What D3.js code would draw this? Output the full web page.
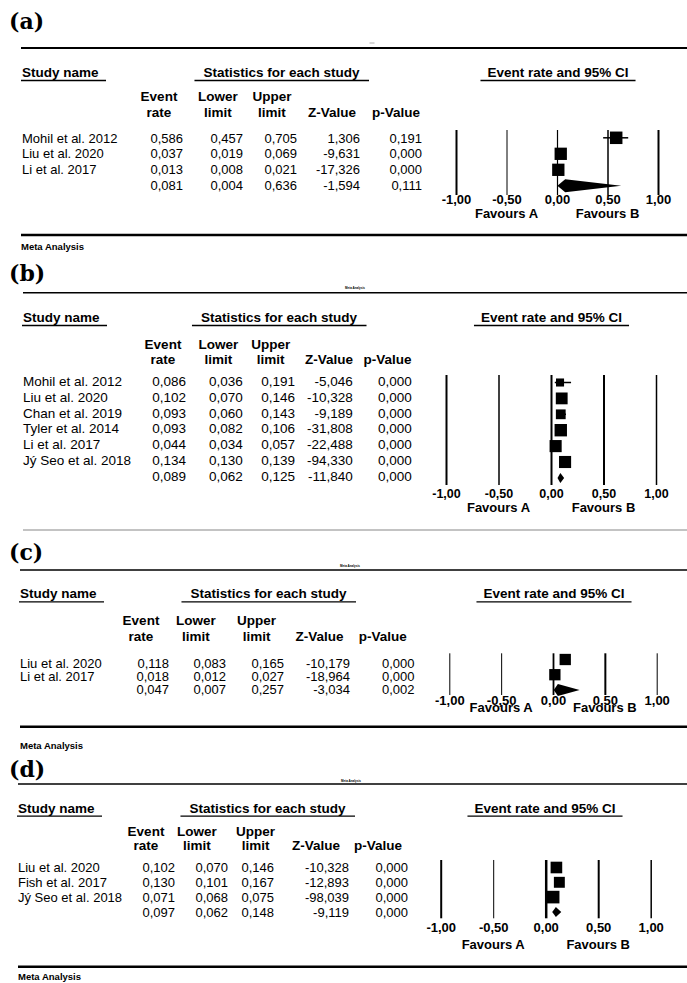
<!DOCTYPE html>
<html>
<head>
<meta charset="utf-8">
<script src="https://cdn.jsdelivr.net/npm/d3@7"></script>
<style>
body { margin: 0; background: #fff; }
text { font-family: "Liberation Sans", Arial, sans-serif; fill: #000; }
</style>
</head>
<body>
<svg id="fig" width="687" height="983"></svg>
<script>
// ---- data ----
var colHeads = [["Event", "rate"], ["Lower", "limit"], ["Upper", "limit"], ["", "Z-Value"], ["", "p-Value"]];
var axisTicks = [-1, -0.5, 0, 0.5, 1];

// (a)
var aStudies = ["Mohil et al. 2012", "Liu et al. 2020", "Li et al. 2017"];
var aRate   = [0.586, 0.037, 0.013];
var aLower  = [0.457, 0.019, 0.008];
var aUpper  = [0.705, 0.069, 0.021];
var aZ      = [1.306, -9.631, -17.326];
var aP      = [0.191, 0.000, 0.000];
var aWeight = [34, 33, 33];
var aSummary = [0.081, 0.004, 0.636, -1.594, 0.111];

// (b)
var bStudies = ["Mohil et al. 2012", "Liu et al. 2020", "Chan et al. 2019", "Tyler et al. 2014", "Li et al. 2017", "Jý Seo et al. 2018"];
var bRate   = [0.086, 0.102, 0.093, 0.093, 0.044, 0.134];
var bLower  = [0.036, 0.070, 0.060, 0.082, 0.034, 0.130];
var bUpper  = [0.191, 0.146, 0.143, 0.106, 0.057, 0.139];
var bZ      = [-5.046, -10.328, -9.189, -31.808, -22.488, -94.330];
var bP      = [0.000, 0.000, 0.000, 0.000, 0.000, 0.000];
var bWeight = [8.7, 18.7, 12.8, 20.6, 19.6, 19.6];
var bSummary = [0.089, 0.062, 0.125, -11.840, 0.000];

// (c)
var cStudies = ["Liu et al. 2020", "Li et al. 2017"];
var cRate   = [0.118, 0.018];
var cLower  = [0.083, 0.012];
var cUpper  = [0.165, 0.027];
var cZ      = [-10.179, -18.964];
var cP      = [0.000, 0.000];
var cWeight = [50, 50];
var cSummary = [0.047, 0.007, 0.257, -3.034, 0.002];

// (d)
var dStudies = ["Liu et al. 2020", "Fish et al. 2017", "Jý Seo et al. 2018"];
var dRate   = [0.102, 0.130, 0.071];
var dLower  = [0.070, 0.101, 0.068];
var dUpper  = [0.146, 0.167, 0.075];
var dZ      = [-10.328, -12.893, -98.039];
var dP      = [0.000, 0.000, 0.000];
var dWeight = [32.7, 28.9, 38.4];
var dSummary = [0.097, 0.062, 0.148, -9.119, 0.000];

// ---- layout of each panel (pixels) ----
var layA = {labelY: 29, ruleX: 21, ruleY: 48, ruleW: 2, tiny: {type: 'dash', x: 372, y: 43},
  headY: 77, nameX: 22, statsC: 281.5, ciC: 558, colY: [101, 117],
  colC: [159, 218, 272, 332, 396], colR: [183, 243, 297, 360, 422], rowY0: 142.7, rowDy: 15.7, fs: 13,
  px0: 456, px1: 658, py1: 130, py2: 195, lineW: [2, 1, 1.2, 1.5, 2], fy0: 137.8, fdy: 16,
  maxSq: 12.5, diaH: 6.5, tickY: 204, favY: 218, tickFs: 13,
  botY: 235, botW: 2.5, botColor: '#000', footY: 250};
var layB = {labelY: 281, ruleX: 23, ruleY: 292.7, ruleW: 1.5, tiny: {type: 'text', x: 355, y: 289},
  headY: 322, nameX: 23, statsC: 279, ciC: 551.5, colY: [349, 363.5],
  colC: [163, 218.5, 270.7, 329, 387.5], colR: [186, 242.7, 295, 352.7, 411.7], rowY0: 386, rowDy: 15.8, fs: 13.5,
  px0: 446, px1: 656, py1: 375, py2: 485, lineW: [2, 1.5, 2, 2, 1.5], fy0: 382.5, fdy: 15.9,
  maxSq: 12.4, diaH: 5, tickY: 498, favY: 511.7, tickFs: 12.5,
  botY: 530, botW: 1.2, botColor: '#888', footY: null};
var layC = {labelY: 560, ruleX: 20, ruleY: 570, ruleW: 1.5, tiny: {type: 'text', x: 350, y: 567},
  headY: 598.3, nameX: 20, statsC: 268.5, ciC: 554, colY: [625, 641],
  colC: [141, 196, 256.6, 319.5, 382.7], colR: [169, 226, 284, 350, 414.5], rowY0: 667.5, rowDy: 13, fs: 13,
  px0: 449.3, px1: 656.7, py1: 653.3, py2: 695, lineW: [1, 1, 1.8, 2, 1], fy0: 659.5, fdy: 15.2,
  maxSq: 11.3, diaH: 6, tickY: 704.5, favY: 711.5, tickFs: 13,
  botY: 726.7, botW: 2.5, botColor: '#000', footY: 749};
var layD = {labelY: 777, ruleX: 18, ruleY: 784, ruleW: 1.5, tiny: {type: 'text', x: 351, y: 781.5},
  headY: 812.7, nameX: 18, statsC: 267.5, ciC: 545, colY: [835.5, 850],
  colC: [146, 197, 255.6, 316, 378], colR: [175, 228, 274, 349, 408], rowY0: 871.5, rowDy: 15, fs: 13,
  px0: 440.7, px1: 650.7, py1: 860, py2: 918.3, lineW: [2, 1, 2.5, 2, 1.5], fy0: 867.5, fdy: 14.8,
  maxSq: 12.6, diaH: 5, tickY: 931.7, favY: 949.3, tickFs: 13,
  botY: 966.7, botW: 2.5, botColor: '#000', footY: 979.5};

var panels = [
  {label: '(a)', studies: aStudies, rate: aRate, lower: aLower, upper: aUpper, z: aZ, p: aP, weight: aWeight, summary: aSummary, lay: layA},
  {label: '(b)', studies: bStudies, rate: bRate, lower: bLower, upper: bUpper, z: bZ, p: bP, weight: bWeight, summary: bSummary, lay: layB},
  {label: '(c)', studies: cStudies, rate: cRate, lower: cLower, upper: cUpper, z: cZ, p: cP, weight: cWeight, summary: cSummary, lay: layC},
  {label: '(d)', studies: dStudies, rate: dRate, lower: dLower, upper: dUpper, z: dZ, p: dP, weight: dWeight, summary: dSummary, lay: layD}
];

var svg = d3.select('#fig');
svg.append('rect').attr('width', 687).attr('height', 983).attr('fill', '#fff');

// comma decimals, plain hyphen minus
var loc = d3.formatLocale({decimal: ',', thousands: '.', grouping: [3], currency: ['', ''], minus: '-'});
var fmt3 = loc.format('.3f');
var fmt2 = loc.format('.2f');

panels.forEach(drawPanel);

function hline(g, x1, x2, y, w, color) {
  return g.append('line').attr('x1', x1).attr('x2', x2).attr('y1', y).attr('y2', y)
    .attr('stroke', color || '#000').attr('stroke-width', w);
}

function underlined(g, x, y, str, padL, padR) {
  var t = g.append('text').attr('x', x).attr('y', y)
    .attr('text-anchor', padL === null ? 'start' : 'middle')
    .style('font-weight', 'bold').style('font-size', '13.5px').text(str);
  var b = t.node().getBBox();
  hline(g, b.x - (padL || 1), b.x + b.width + padR, y + 3.5, 1.3);
}

function drawPanel(pn) {
  var L = pn.lay;
  var g = svg.append('g');

  g.append('text').attr('x', 9).attr('y', L.labelY)
    .style('font-family', '"DejaVu Serif", serif').style('font-weight', 'bold').style('font-size', '22px')
    .text(pn.label);

  hline(g, L.ruleX, 687, L.ruleY, L.ruleW);

  // tiny leftover caption from the source screenshots
  if (L.tiny.type === 'dash') {
    hline(g, L.tiny.x - 2.5, L.tiny.x + 2.5, L.tiny.y, 0.8, '#999');
  } else {
    g.append('text').attr('x', L.tiny.x).attr('y', L.tiny.y).attr('text-anchor', 'middle')
      .style('font-size', '3px').style('font-weight', 'bold').text('Meta Analysis');
  }

  // headers
  underlined(g, L.nameX, L.headY, 'Study name', null, 7);
  underlined(g, L.statsC, L.headY, 'Statistics for each study', 9, 9);
  underlined(g, L.ciC, L.headY, 'Event rate and 95% CI', 7, 7);

  colHeads.forEach(function(h, j) {
    h.forEach(function(s, k) {
      if (!s) return;
      g.append('text').attr('x', L.colC[j]).attr('y', L.colY[k]).attr('text-anchor', 'middle')
        .style('font-weight', 'bold').style('font-size', '13.5px').text(s);
    });
  });

  // table rows (studies + pooled row)
  var rows = pn.studies.map(function(s, i) {
    return {name: s, vals: [pn.rate[i], pn.lower[i], pn.upper[i], pn.z[i], pn.p[i]], w: pn.weight[i]};
  });
  rows.push({name: '', vals: pn.summary, pooled: true});

  rows.forEach(function(r, i) {
    var y = L.rowY0 + i * L.rowDy;
    g.append('text').attr('x', L.nameX).attr('y', y).style('font-size', L.fs + 'px').text(r.name);
    r.vals.forEach(function(v, j) {
      g.append('text').attr('x', L.colR[j]).attr('y', y).attr('text-anchor', 'end')
        .style('font-size', L.fs + 'px').text(fmt3(v));
    });
  });

  // forest plot
  var x = d3.scaleLinear().domain([-1, 1]).range([L.px0, L.px1]);
  var sq = d3.scaleSqrt().domain([0, d3.max(pn.weight)]).range([0, L.maxSq]);

  var ax = g.append('g').attr('transform', 'translate(0,' + L.py2 + ')')
    .call(d3.axisBottom(x).tickValues(axisTicks).tickFormat(fmt2).tickSize(-(L.py2 - L.py1)));
  ax.select('.domain').remove();
  ax.selectAll('.tick line').attr('stroke', '#000').attr('stroke-width', function(d, i) { return L.lineW[i]; });
  ax.selectAll('.tick text').attr('y', L.tickY - L.py2).attr('dy', null).attr('fill', '#000')
    .style('font-size', L.tickFs + 'px').style('font-weight', 'bold');

  g.append('text').attr('x', x(-0.5)).attr('y', L.favY).attr('text-anchor', 'middle')
    .style('font-weight', 'bold').style('font-size', '13px').text('Favours A');
  g.append('text').attr('x', x(0.5)).attr('y', L.favY).attr('text-anchor', 'middle')
    .style('font-weight', 'bold').style('font-size', '13px').text('Favours B');

  rows.forEach(function(r, i) {
    var cy = L.fy0 + i * L.fdy;
    if (r.pooled) {
      var h = L.diaH;
      g.append('path')
        .attr('d', 'M' + x(r.vals[1]) + ',' + cy + 'L' + x(r.vals[0]) + ',' + (cy - h) +
                   'L' + x(r.vals[2]) + ',' + cy + 'L' + x(r.vals[0]) + ',' + (cy + h) + 'Z')
        .attr('fill', '#000');
    } else {
      hline(g, x(r.vals[1]), x(r.vals[2]), cy, 1.5);
      var s = sq(r.w);
      g.append('rect').attr('x', x(r.vals[0]) - s / 2).attr('y', cy - s / 2)
        .attr('width', s).attr('height', s).attr('fill', '#000');
    }
  });

  hline(g, L.ruleX, 687, L.botY, L.botW, L.botColor);
  if (L.footY !== null) {
    g.append('text').attr('x', L.ruleX).attr('y', L.footY)
      .style('font-weight', 'bold').style('font-size', '9.5px').text('Meta Analysis');
  }
}
</script>
</body>
</html>
